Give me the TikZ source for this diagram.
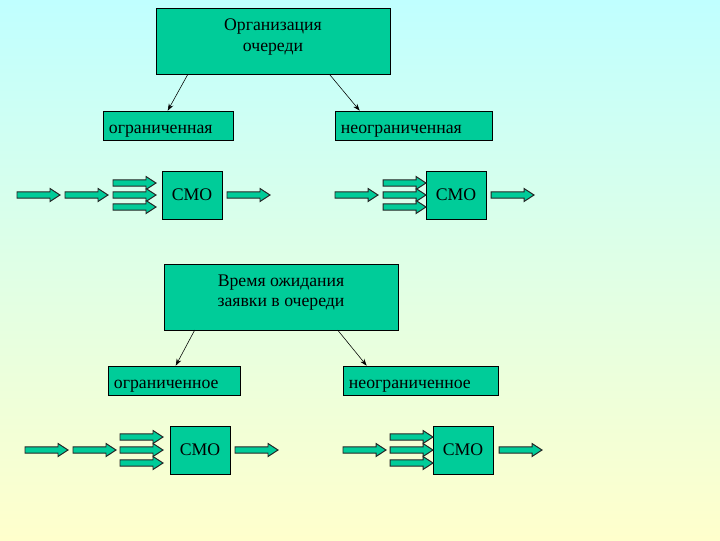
\documentclass[tikz,border=0pt]{standalone}
\usepackage{fontspec}
\setmainfont{Liberation Serif}
\usetikzlibrary{calc,arrows.meta}

\definecolor{boxgreen}{RGB}{0,204,153}
\definecolor{topsky}{RGB}{192,255,255}
\definecolor{bottomsand}{RGB}{255,255,204}

\tikzset{
  box/.style={draw=black, fill=boxgreen, inner sep=0pt, font=\fontsize{12.6}{14.5}\selectfont},
  title/.style={box, align=center, text depth=9pt, minimum width=5.85cm, minimum height=1.64cm},
  kind/.style={box, align=left, inner xsep=0.15cm, text height=14pt, text depth=3pt, minimum height=0.725cm},
  smo/.style={box, minimum width=1.5cm, minimum height=1.2cm},
  link/.style={thin, -{Stealth[length=5pt,width=3.5pt]}},
  arrowfill/.style={draw=black!85, fill=boxgreen, line width=0.7pt},
  blockarr/.pic={
    \draw[arrowfill] (0,-3.2) -- (33,-3.2) -- (33,-6.5) -- (43,0) -- (33,6.5) -- (33,3.2) -- (0,3.2) -- cycle;
  }
}

\begin{document}
\begin{tikzpicture}[x=0.025cm, y=-0.025cm]
  % background
  \shade[top color=topsky, bottom color=bottomsand] (0,0) rectangle (720,540);
  \useasboundingbox (0,0) rectangle (720,540);

  % upper part
  \node[title] (org) at (273,41.5) {Организация\\очереди};
  \node[kind, text width=2.95cm] (lim) at (168,125.5) {ограниченная};
  \node[kind, text width=3.625cm] (unlim) at (413.5,125.5) {неограниченная};
  \draw[link] ($(org.south west)+(32,0)$) -- ($(lim.north west)+(65,0)$);
  \draw[link] ($(org.south west)+(174,0)$) -- ($(unlim.north west)+(25,0)$);

  \node[smo] (smoA) at (192,195) {СМО};
  \pic at (17,195) {blockarr};
  \pic at (65,195) {blockarr};
  \pic at (113,183) {blockarr};
  \pic at (113,195) {blockarr};
  \pic at (113,207) {blockarr};
  \pic at (227,195) {blockarr};

  \node[smo] (smoB) at (456,195) {СМО};
  \pic at (335,195) {blockarr};
  \pic at (383,183) {blockarr};
  \pic at (383,195) {blockarr};
  \pic at (383,207) {blockarr};
  \pic at (491,195) {blockarr};

  % lower part
  \node[title] (wait) at (281,297) {Время ожидания\\заявки в очереди};
  \node[kind, text width=3.0cm] (limw) at (174,380.5) {ограниченное};
  \node[kind, text width=3.575cm] (unlimw) at (420.5,380.5) {неограниченное};
  \draw[link] ($(wait.south west)+(31,0)$) -- ($(limw.north west)+(68,0)$);
  \draw[link] ($(wait.south west)+(174,0)$) -- ($(unlimw.north west)+(24,0)$);

  \node[smo] (smoC) at (200,450) {СМО};
  \pic at (25,450) {blockarr};
  \pic at (73,450) {blockarr};
  \pic at (120,437) {blockarr};
  \pic at (120,450) {blockarr};
  \pic at (120,463) {blockarr};
  \pic at (235,450) {blockarr};

  \node[smo] (smoD) at (463,450) {СМО};
  \pic at (343,450) {blockarr};
  \pic at (390,437) {blockarr};
  \pic at (390,450) {blockarr};
  \pic at (390,463) {blockarr};
  \pic at (499,450) {blockarr};
\end{tikzpicture}
\end{document}
